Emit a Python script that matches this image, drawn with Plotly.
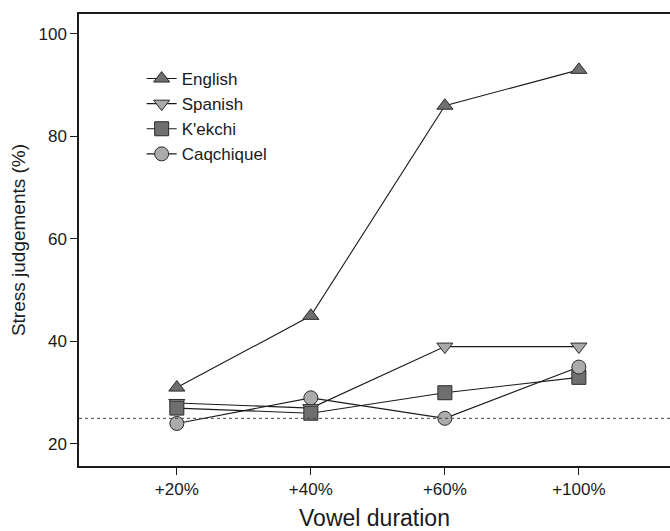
import plotly.graph_objects as go

durations = ["+20%", "+40%", "+60%", "+100%"]
english = [31, 45, 86, 93]
spanish = [28, 27, 39, 39]
kekchi = [27, 26, 30, 33]
caqchiquel = [24, 29, 25, 35]
chance_level = 25

series = [
    ("English", english, "triangle-up", "#6f6f6f"),
    ("Spanish", spanish, "triangle-down", "#a9a9a9"),
    ("K'ekchi", kekchi, "square", "#6f6f6f"),
    ("Caqchiquel", caqchiquel, "circle", "#ababab"),
]

fig = go.Figure()
for name, vals, sym, col in series:
    fig.add_trace(go.Scatter(
        x=list(range(len(durations))),
        y=vals,
        mode="lines+markers",
        name=name,
        line=dict(color="#1a1a1a", width=1.1),
        marker=dict(symbol=sym, size=14, color=col,
                    line=dict(color="#2a2a2a", width=1)),
    ))

fig.add_shape(type="line", xref="paper", x0=0, x1=1, yref="y",
              y0=chance_level, y1=chance_level,
              line=dict(color="#444444", width=1, dash="dot"))

fig.update_layout(
    width=670, height=531,
    margin=dict(l=79, r=0, t=14, b=65),
    paper_bgcolor="white", plot_bgcolor="white",
    font=dict(family="Liberation Sans, Arial, sans-serif", color="#1a1a1a"),
    showlegend=True,
    legend=dict(x=0.106, y=0.896, xanchor="left", yanchor="top",
                bgcolor="rgba(0,0,0,0)", font=dict(size=17),
                tracegroupgap=0, itemwidth=30),
)
fig.update_xaxes(
    range=[-0.73, 3.68], automargin=False,
    tickvals=list(range(len(durations))), ticktext=durations,
    ticks="outside", ticklen=7, tickcolor="#1a1a1a",
    showline=True, linecolor="#1a1a1a", linewidth=1.5, mirror=True,
    showgrid=False, zeroline=False, tickfont=dict(size=17),
    title=dict(text="Vowel duration", font=dict(size=23), standoff=45),
)
fig.update_yaxes(
    range=[15.7, 103.9], automargin=False,
    tickvals=[20, 40, 60, 80, 100],
    ticks="outside", ticklen=7, tickcolor="#1a1a1a",
    showline=True, linecolor="#1a1a1a", linewidth=1.5,
    showgrid=False, zeroline=False, tickfont=dict(size=17),
    title=dict(text="Stress judgements (%)", font=dict(size=19), standoff=8),
)

# drop the default page margin so the figure sits flush in the window
fig.write_html("out.html", config={"displayModeBar": False},
               post_script="document.body.style.margin='0';")
